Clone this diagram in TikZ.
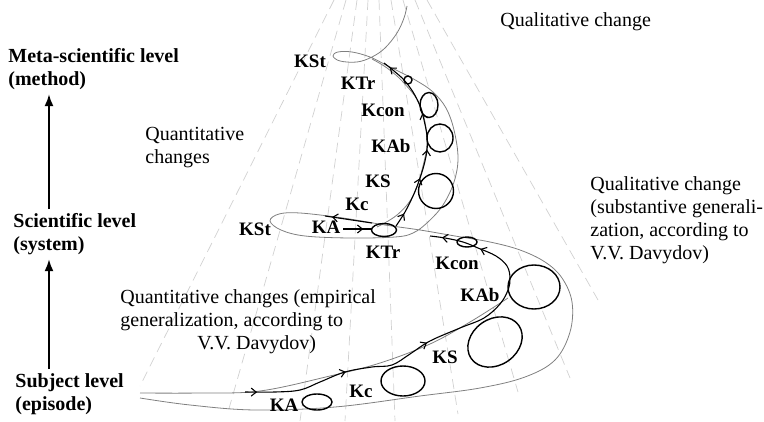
\documentclass[tikz,border=0pt]{standalone}
\usepackage{fontspec}
\setmainfont{Liberation Serif}
\usetikzlibrary{arrows.meta,decorations.markings}
\tikzstyle{level}=[font=\fontsize{10}{11.5}\selectfont\bfseries,align=left,inner sep=0pt,anchor=north west]
\tikzstyle{remark}=[font=\fontsize{10}{11.5}\selectfont,align=left,inner sep=0pt,anchor=north west]
\tikzstyle{stage}=[font=\fontsize{9.5}{10}\selectfont\bfseries,inner sep=0pt]
\tikzstyle{ray}=[draw=black!18,dash pattern=on 5pt off 3pt,line width=0.35pt]
\tikzstyle{guide}=[draw=black!50,line width=0.4pt]
\tikzstyle{track}=[draw=black,line width=0.55pt]
\tikzstyle{turn}=[draw=black,line width=0.7pt]
\tikzstyle{rise}=[-{Latex[length=6pt,width=4.5pt]},line width=0.9pt,shorten >=2pt,shorten <=2pt]
\tikzstyle{barbs}=[postaction={decorate}]
\newcommand{\barbtip}{\arrow{Straight Barb[length=2.5pt,width=4pt]}}

\begin{document}
\begin{tikzpicture}[x=0.5pt,y=-0.5pt]
\useasboundingbox (0,0) rectangle (764,422);

% faint fan of dashed lines
\foreach \tx/\bx/\by in {334/140/386,346/228/412,357/300/421,368/345/421,379/395/421,391/458/414,403/518/392,415/570/378,427/598/300}
  \draw[ray] (\tx,0) -- (\bx,\by);

% the spiral guide
\draw[guide] plot[smooth,tension=0.6] coordinates {(140,398) (190,405) (255,410) (335,407) (420,396) (480,388) (525,377) (555,360) (570,332) (572,302) (562,278) (545,262) (520,250) (490,242) (455,236) (420,230) (385,225) (343,218) (300,213) (279,214) (270,221) (281,230) (305,236) (350,238) (395,237) (413,233) (428,222) (443,205) (454,182) (458,158) (454,130) (446,108) (433,92) (417,81) (400,72) (386,65) (370,57) (352,52) (338,52) (333,56) (340,61) (357,62) (372,57) (385,48) (397,33) (404,18) (407,6)};
\draw[guide] plot[smooth,tension=0.6] coordinates {(140,393) (200,393) (260,391) (330,376) (380,363) (430,344) (470,322) (508,298)};
\draw[guide] plot[smooth,tension=0.6] coordinates {(377,227) (397,215) (413,196) (423,166) (427,138) (420,105) (403,82) (387,68) (372,59)};

% lower turn
\draw[track,barbs,decoration={markings,mark=at position 0.03 with {\barbtip},mark=at position 0.26 with {\barbtip},mark=at position 0.48 with {\barbtip},mark=at position 0.87 with {\barbtip},mark=at position 0.97 with {\barbtip}}]
  plot[smooth,tension=0.6] coordinates {(245,392) (275,392) (300,390) (320,382) (345,372) (372,367) (392,365) (410,354) (430,341) (460,328) (484,318) (500,304) (508,290) (510,278) (507,266) (496,256) (478,248) (463,242) (445,238) (430,236)};
\draw[turn] (317,402) ellipse [x radius=15, y radius=8];
\draw[turn] (403,381) ellipse [x radius=22, y radius=15];
\draw[turn,rotate around={35:(495,342)}] (495,342) ellipse [x radius=29, y radius=23];
\draw[turn] (534,287) ellipse [x radius=26, y radius=22];
\draw[turn] (467,242) ellipse [x radius=10, y radius=5];
\draw[turn] (384,230) ellipse [x radius=12.5, y radius=6.5];

% crossing at the middle KSt
\draw[track,barbs,decoration={markings,mark=at position 0.85 with {\barbtip}}] (372,223) -- (325,216);
\draw[track,barbs,decoration={markings,mark=at position 0.7 with {\barbtip}}] (343,229) -- (372,229);

% upper turn
\draw[track,barbs,decoration={markings,mark=at position 0.08 with {\barbtip},mark=at position 0.29 with {\barbtip},mark=at position 0.45 with {\barbtip},mark=at position 0.65 with {\barbtip},mark=at position 0.96 with {\barbtip}}]
  plot[smooth,tension=0.6] coordinates {(396,226) (405,212) (413,196) (419,181) (424,165) (427,150) (427,136) (424,120) (420,106) (413,92) (404,80) (394,71) (384,63)};
\draw[turn] (436,191) circle [radius=17.5];
\draw[turn] (440,138) ellipse [x radius=13, y radius=14];
\draw[turn] (429,105) ellipse [x radius=9, y radius=12.5];
\draw[turn] (408,80) circle [radius=4];

% stage labels
\node[stage] (kst3) at (310,61) {KSt};
\node[stage] (ktr2) at (358,83) {KTr};
\node[stage] (kcon2) at (383,110) {Kcon};
\node[stage] (kab2) at (391,146) {KAb};
\node[stage] (ks2) at (378,181) {KS};
\node[stage] (kc2) at (357,204) {Kc};
\node[stage] (ka2) at (326,227) {KA};
\node[stage] (kst2) at (255,229) {KSt};
\node[stage] (ktr1) at (383,252) {KTr};
\node[stage] (kcon1) at (457,263) {Kcon};
\node[stage] (kab1) at (480,295) {KAb};
\node[stage] (ks1) at (445,357) {KS};
\node[stage] (kc1) at (361,391) {Kc};
\node[stage] (ka1) at (284,405) {KA};

% levels
\node[level] (meta) at (8,48) {Meta-scientific level\\(method)};
\node[level] (sci) at (13,213) {Scientific level\\(system)};
\node[level] (subj) at (15,373) {Subject level\\(episode)};
\coordinate (axis) at (49,0);
\draw[rise] (subj.north -| axis) -- (sci.south -| axis);
\draw[rise] (sci.north -| axis) -- (meta.south -| axis);

% remarks
\node[remark] (quant) at (145,127) {Quantitative\\changes};
\node[remark] (qualtop) at (500,12) {Qualitative change};
\node[remark] (qualsub) at (590,176) {Qualitative change\\(substantive generali-\\zation, according to\\V.V. Davydov)};
\node[remark] (quantemp) at (120,289) {Quantitative changes (empirical\\generalization, according to\\\hspace*{38.5pt}V.V. Davydov)};
\end{tikzpicture}
\end{document}
